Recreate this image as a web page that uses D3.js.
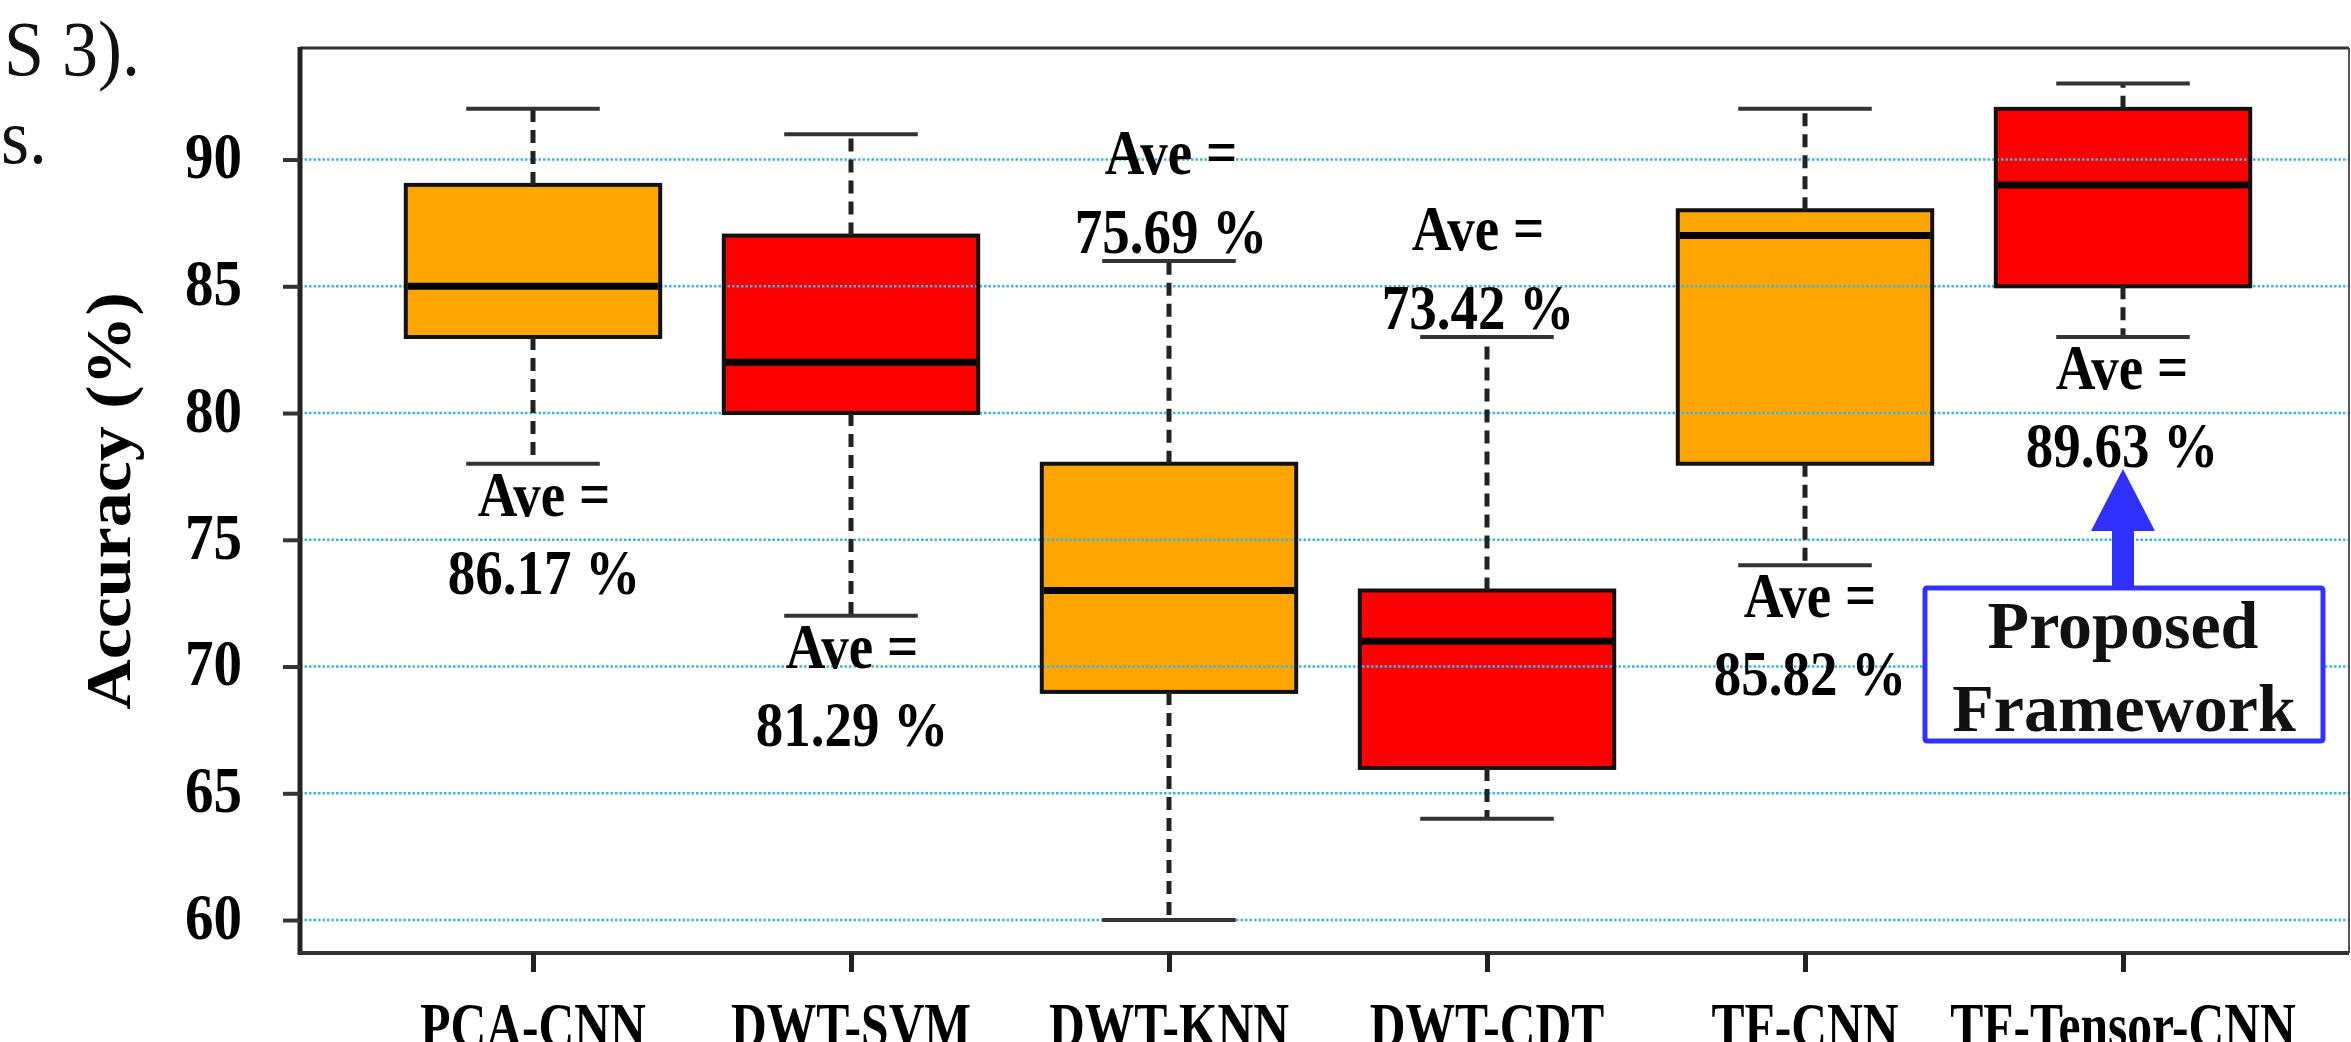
<!DOCTYPE html>
<html>
<head>
<meta charset="utf-8">
<script src="https://cdn.jsdelivr.net/npm/d3@7"></script>
<style>
  html, body { margin: 0; padding: 0; background: #fff; }
  svg { display: block; }
  text { font-family: "Liberation Serif", "Times New Roman", serif; }
</style>
</head>
<body>
<svg id="chart" width="2351" height="1042"></svg>
<script>
// Accuracy distribution per method (box-and-whisker summary, %)
const categories  = ["PCA-CNN", "DWT-SVM", "DWT-KNN", "DWT-CDT", "TF-CNN", "TF-Tensor-CNN"];
const whiskerLow  = [78, 72, 60, 64, 74, 83];
const quartile1   = [83, 80, 69, 66, 78, 85];
const medians     = [85, 82, 73, 71, 87, 89];
const quartile3   = [89, 87, 78, 73, 88, 92];
const whiskerHigh = [92, 91, 86, 83, 92, 93];
const averages    = [86.17, 81.29, 75.69, 73.42, 85.82, 89.63];
const labelSide   = ["below", "below", "above", "above", "below", "below"];
const yTicks      = [60, 65, 70, 75, 80, 85, 90];

// layout
const plot = { left: 300, right: 2349, top: 48, bottom: 953 };
const labelNudge = [11, 1, 2, -9, 5, -1];
const colors = ["#FFA500", "#FF0000"];
const textStretch = 1.15;

const svg = d3.select("#chart");
svg.append("rect").attr("width", 2351).attr("height", 1042).attr("fill", "#fff");

const y = d3.scaleLinear().domain([58.7, 94.4]).range([plot.bottom, plot.top]);
const x = d3.scalePoint().domain(categories).range([533, 2123]);
const boxW = x.step() * 0.8;
const capW = x.step() * 0.42;

const rows = categories.map((c, i) => ({
  c, i, lo: whiskerLow[i], q1: quartile1[i], med: medians[i], q3: quartile3[i],
  hi: whiskerHigh[i], avg: averages[i], side: labelSide[i]
}));

// text with a vertical stretch applied around its anchor point
function stretched(parent, px, py, str, size, opts = {}) {
  const g = parent.append("g")
    .attr("transform", `translate(${px},${py}) scale(${opts.sx || 1},${opts.sy || textStretch})`);
  return g.append("text")
    .attr("text-anchor", opts.anchor || "middle")
    .attr("font-size", size)
    .attr("font-weight", opts.weight || "bold")
    .attr("fill", opts.fill || "#000")
    .text(str);
}

// surrounding body text fragments
stretched(svg, 140, 75, "S 3).", 72, { anchor: "end", weight: "normal", sy: 1.1, fill: "#111" });
stretched(svg, 47, 163, "s.", 72, { anchor: "end", weight: "normal", sy: 1.1, fill: "#111" });

// box fills
svg.append("g").selectAll("rect").data(rows).join("rect")
  .attr("x", d => x(d.c) - boxW / 2)
  .attr("y", d => y(d.q3))
  .attr("width", boxW)
  .attr("height", d => y(d.q1) - y(d.q3))
  .attr("fill", d => colors[d.i % 2]);

// dotted horizontal gridlines
svg.append("g").selectAll("line").data(yTicks).join("line")
  .attr("x1", plot.left).attr("x2", plot.right)
  .attr("y1", d => y(d)).attr("y2", d => y(d))
  .attr("stroke", "#37b6ee").attr("stroke-width", 2.5)
  .attr("stroke-dasharray", "2.5,2");

// box outlines
svg.append("g").selectAll("rect").data(rows).join("rect")
  .attr("x", d => x(d.c) - boxW / 2)
  .attr("y", d => y(d.q3))
  .attr("width", boxW)
  .attr("height", d => y(d.q1) - y(d.q3))
  .attr("fill", "none").attr("stroke", "#111").attr("stroke-width", 4);

// dashed whiskers
const wg = svg.append("g");
wg.selectAll("line.up").data(rows).join("line").attr("class", "up")
  .attr("x1", d => x(d.c)).attr("x2", d => x(d.c))
  .attr("y1", d => y(d.q3)).attr("y2", d => y(d.hi))
  .attr("stroke", "#222").attr("stroke-width", 5).attr("stroke-dasharray", "13,8");
wg.selectAll("line.down").data(rows).join("line").attr("class", "down")
  .attr("x1", d => x(d.c)).attr("x2", d => x(d.c))
  .attr("y1", d => y(d.q1)).attr("y2", d => y(d.lo))
  .attr("stroke", "#222").attr("stroke-width", 5).attr("stroke-dasharray", "13,8");

// whisker caps
["lo", "hi"].forEach(k => {
  wg.selectAll("line.cap-" + k).data(rows).join("line").attr("class", "cap-" + k)
    .attr("x1", d => x(d.c) - capW / 2).attr("x2", d => x(d.c) + capW / 2)
    .attr("y1", d => y(d[k])).attr("y2", d => y(d[k]))
    .attr("stroke", "#333").attr("stroke-width", 4);
});

// medians
svg.append("g").selectAll("line").data(rows).join("line")
  .attr("x1", d => x(d.c) - boxW / 2 + 2).attr("x2", d => x(d.c) + boxW / 2 - 2)
  .attr("y1", d => y(d.med)).attr("y2", d => y(d.med))
  .attr("stroke", "#000").attr("stroke-width", 7);

// frame
const frame = svg.append("g");
frame.append("line").attr("x1", plot.left).attr("x2", plot.right).attr("y1", plot.top).attr("y2", plot.top)
  .attr("stroke", "#333").attr("stroke-width", 3);
frame.append("line").attr("x1", plot.right).attr("x2", plot.right).attr("y1", plot.top).attr("y2", plot.bottom)
  .attr("stroke", "#555").attr("stroke-width", 2);

// y axis
const yAxis = svg.append("g").attr("transform", `translate(${plot.left},0)`)
  .call(d3.axisLeft(y).tickValues(yTicks).tickSizeInner(17).tickSizeOuter(0).tickPadding(41).tickFormat(d3.format("d")));
yAxis.select(".domain").remove();
yAxis.selectAll(".tick line").attr("stroke", "#333").attr("stroke-width", 4);
yAxis.selectAll(".tick text")
  .attr("font-size", 57).attr("font-weight", "bold").attr("fill", "#000")
  .attr("font-family", "Liberation Serif, Times New Roman, serif")
  .attr("dy", "0.28em")
  .attr("transform", `scale(1,${textStretch})`);

// x axis
const xAxis = svg.append("g").attr("transform", `translate(0,${plot.bottom})`)
  .call(d3.axisBottom(x).tickSizeInner(19).tickSizeOuter(0).tickFormat(""));
xAxis.select(".domain").remove();
xAxis.selectAll(".tick line").attr("stroke", "#222").attr("stroke-width", 5);
categories.forEach(c => {
  stretched(svg, x(c), 1047, c, 55, { sx: 0.9, sy: textStretch });
});

// axis lines
frame.append("line").attr("x1", plot.left).attr("x2", plot.left).attr("y1", plot.top - 1).attr("y2", plot.bottom + 2)
  .attr("stroke", "#222").attr("stroke-width", 5);
frame.append("line").attr("x1", plot.left - 2).attr("x2", plot.right).attr("y1", plot.bottom).attr("y2", plot.bottom)
  .attr("stroke", "#333").attr("stroke-width", 4);

// y axis title
svg.append("g").attr("transform", `translate(130,501) rotate(-90) scale(1.11,1)`)
  .append("text").attr("text-anchor", "middle").attr("font-size", 63).attr("font-weight", "bold")
  .text("Accuracy (%)");

// average annotations
const labels = svg.append("g");
let tensorLabelBase = 0;
rows.forEach((d, i) => {
  const cx = x(d.c) + labelNudge[i];
  let b1, b2;
  if (d.side === "below") { b1 = y(d.lo) + 52; b2 = b1 + 78; }
  else { b2 = y(d.hi) - 8; b1 = b2 - 79; }
  stretched(labels, cx, b1, "Ave =", 55);
  stretched(labels, cx, b2, d.avg.toFixed(2) + " %", 55);
  if (d.c === "TF-Tensor-CNN") tensorLabelBase = b2;
});

// highlighted method callout
const pc = x("TF-Tensor-CNN");
const tipY = tensorLabelBase + 2;
const boxTop = tipY + 119, boxBottom = tipY + 272;
const blue = "#3030ff";
svg.append("rect").attr("x", pc - 198).attr("y", boxTop).attr("width", 398).attr("height", boxBottom - boxTop)
  .attr("fill", "#fff").attr("stroke", blue).attr("stroke-width", 5).attr("rx", 2);
svg.append("path")
  .attr("d", d3.line()([
    [pc, tipY], [pc + 32, tipY + 62], [pc + 11, tipY + 62], [pc + 11, boxTop],
    [pc - 11, boxTop], [pc - 11, tipY + 62], [pc - 32, tipY + 62]
  ]) + "Z")
  .attr("fill", blue);
svg.append("text").attr("x", pc).attr("y", boxTop + 60).attr("text-anchor", "middle")
  .attr("font-size", 68).attr("font-weight", "bold").attr("fill", "#111").text("Proposed");
svg.append("text").attr("x", pc + 1).attr("y", boxTop + 143).attr("text-anchor", "middle")
  .attr("font-size", 68).attr("font-weight", "bold").attr("fill", "#111").text("Framework");
</script>
</body>
</html>
